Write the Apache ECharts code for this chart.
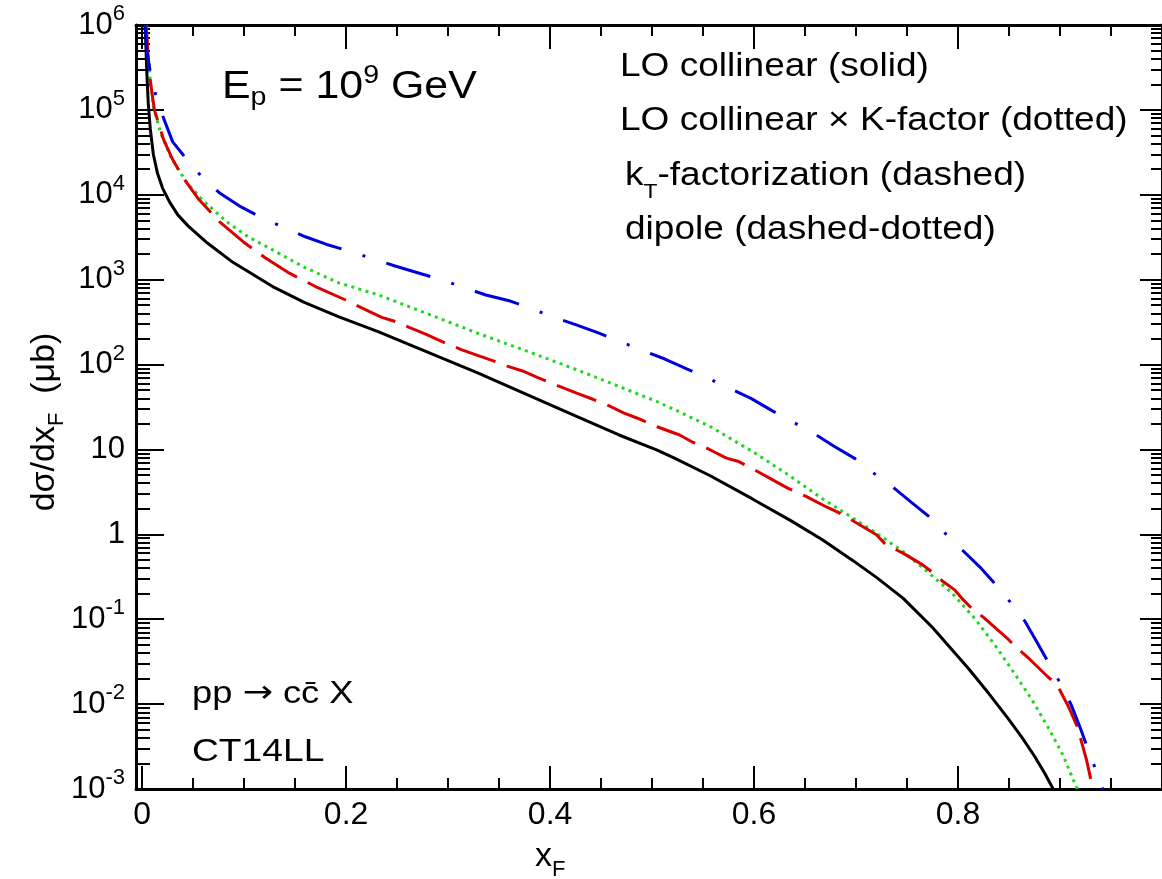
<!DOCTYPE html>
<html><head><meta charset="utf-8">
<script src="https://cdn.jsdelivr.net/npm/echarts@6/dist/echarts.min.js"></script>
<style>html,body{margin:0;padding:0;background:#fff}#c{width:1162px;height:879px}</style>
</head><body><div id="c"></div>
<script>
const FONT = "'Liberation Sans', Arial, Helvetica, sans-serif";

// LO collinear (solid, black)
const loX = [0.003,0.0045,0.006,0.008,0.011,0.015,0.020,0.027,0.035,0.045,0.064,0.089,0.128,0.159,0.193,0.232,0.268,0.329,0.378,0.426,0.467,0.505,0.522,0.557,0.598,0.636,0.667,0.696,0.720,0.746,0.775,0.810,0.830,0.849,0.863,0.875,0.885,0.892,0.897];
const loY = [1e6,3e5,1.2e5,6e4,3.0e4,1.8e4,1.2e4,8.2e3,5.8e3,4.3e3,2.7e3,1.6e3,830,540,365,243,160,80,44,24.5,14.9,9.8,7.9,4.9,2.63,1.45,0.863,0.50,0.311,0.177,0.080,0.0264,0.0134,0.0068,0.0040,0.00243,0.00153,0.00107,0.00083];

// LO collinear x K-factor (dotted, green)
const kfX = [0.004,0.006,0.008,0.011,0.018,0.028,0.044,0.060,0.083,0.104,0.128,0.159,0.193,0.232,0.268,0.329,0.378,0.426,0.467,0.505,0.522,0.557,0.602,0.636,0.667,0.696,0.716,0.732,0.746,0.768,0.794,0.817,0.837,0.856,0.873,0.888,0.903,0.915,0.920];
const kfY = [1e6,4e5,2.2e5,1.1e5,5.4e4,2.8e4,1.38e4,8.5e3,4.8e3,3.2e3,2.24e3,1.4e3,915,660,450,234,143,87,55.6,36.5,29.5,18.6,8.9,4.8,2.63,1.58,1.11,0.82,0.63,0.38,0.204,0.10,0.048,0.0224,0.011,0.0054,0.0025,0.00112,0.00085];

// kT-factorization (dashed, red)
const ktX = [0.004,0.006,0.008,0.012,0.021,0.030,0.040,0.055,0.076,0.099,0.121,0.144,0.170,0.199,0.223,0.235,0.249,0.263,0.278,0.298,0.313,0.326,0.343,0.358,0.373,0.388,0.408,0.426,0.442,0.457,0.472,0.487,0.505,0.527,0.539,0.552,0.562,0.573,0.585,0.601,0.621,0.633,0.651,0.671,0.683,0.701,0.720,0.729,0.746,0.765,0.772,0.785,0.797,0.805,0.813,0.825,0.848,0.856,0.870,0.888,0.897,0.908,0.917,0.920,0.926,0.931];
const ktY = [1e6,4e5,2.2e5,1.0e5,4.5e4,2.6e4,1.6e4,9.0e3,4.8e3,2.8e3,1.8e3,1.2e3,830,580,420,360,320,270,228,178,150,132,112,96,84,70,56,46,39,33,27,23,18.5,14.8,12.3,10.6,9.2,7.9,7.2,5.7,4.2,3.5,2.8,2.1,1.8,1.35,0.99,0.76,0.60,0.44,0.38,0.28,0.22,0.17,0.136,0.105,0.060,0.048,0.034,0.021,0.017,0.0095,0.0054,0.004,0.0022,0.00117];

// dipole (dashed-dotted, blue)
const dpX = [0.003,0.0046,0.008,0.0133,0.021,0.030,0.045,0.059,0.076,0.097,0.117,0.137,0.160,0.181,0.204,0.224,0.248,0.271,0.293,0.314,0.337,0.361,0.383,0.403,0.425,0.448,0.469,0.490,0.512,0.534,0.555,0.575,0.597,0.618,0.638,0.658,0.678,0.699,0.716,0.735,0.754,0.772,0.785,0.797,0.821,0.838,0.852,0.866,0.878,0.890,0.901,0.911,0.920,0.928,0.935,0.942,0.945];
const dpY = [1e6,5e5,2.8e5,1.5e5,8e4,4.2e4,2.5e4,1.6e4,1.05e4,7.2e3,5.4e3,4.2e3,3.2e3,2.6e3,2.15e3,1.8e3,1.45e3,1.2e3,1.0e3,822,660,560,450,363,295,234,186,148,117,89,69,53,40,28.5,21,15.7,11,7.8,5.4,3.7,2.4,1.6,1.1,0.79,0.417,0.248,0.155,0.093,0.052,0.029,0.017,0.0098,0.0052,0.0028,0.0017,0.001,0.0008];

const xMajorTicks = [0, 0.2, 0.4, 0.6, 0.8];
const xMinorTicks = [0.05,0.1,0.15,0.25,0.3,0.35,0.45,0.5,0.55,0.65,0.7,0.75,0.85,0.9,0.95];
const yMajorTicks = [1e-3,1e-2,1e-1,1,10,100,1e3,1e4,1e5,1e6];
const yMinorTicks = [];
for (let e = -3; e < 6; e++) for (let m = 2; m <= 9; m++) yMinorTicks.push(+(m * Math.pow(10, e)).toPrecision(3));

const zip = (xs, ys) => xs.map((x, i) => [x, ys[i]]);

const X_MIN = -0.006, X_MAX = 1.0, Y_MIN = 1e-3, Y_MAX = 1e6;

function xAxisDef(pos, ticks, len, showLine, showLabel) {
  return {
    type: 'value', min: X_MIN, max: X_MAX, position: pos,
    axisLine: { show: showLine, onZero: false, lineStyle: { color: '#000', width: 3 } },
    axisTick: { show: true, inside: true, length: len, customValues: ticks, lineStyle: { color: '#000', width: 2 } },
    axisLabel: showLabel ? {
      show: true, customValues: ticks, margin: 10, color: '#000', fontSize: 32, fontFamily: FONT,
      formatter: v => v === 0 ? '0' : v.toFixed(1)
    } : { show: false },
    splitLine: { show: false }
  };
}
function yAxisDef(pos, ticks, len, showLine, showLabel) {
  return {
    type: 'log', logBase: 10, min: Y_MIN, max: Y_MAX, position: pos,
    axisLine: { show: showLine, onZero: false, lineStyle: { color: '#000', width: 3 } },
    axisTick: { show: true, inside: true, length: len, customValues: ticks, lineStyle: { color: '#000', width: 2 } },
    axisLabel: showLabel ? {
      show: true, customValues: ticks, margin: 11, color: '#000', fontFamily: FONT,
      formatter: v => {
        const e = Math.round(Math.log10(v));
        if (e === 0) return '{b|1}';
        if (e === 1) return '{b|10}';
        return '{b|10}{s|' + e + '}';
      },
      rich: {
        b: { fontSize: 31, lineHeight: 44, fontFamily: FONT, color: '#000' },
        s: { fontSize: 22, lineHeight: 22, verticalAlign: 'top', fontFamily: FONT, color: '#000' }
      }
    } : { show: false },
    splitLine: { show: false }
  };
}

function txt(x, y, text, rich, scaleX) {
  return {
    type: 'text', x: x, y: y, scaleX: scaleX || 1,
    style: { text: text, rich: rich, align: 'left', verticalAlign: 'middle', fill: '#000', fontFamily: FONT }
  };
}
const legRich = {
  a: { fontSize: 32.5, lineHeight: 52, fontFamily: FONT, fill: '#000', color: '#000' },
  s: { fontSize: 20, lineHeight: 20, verticalAlign: 'bottom', fontFamily: FONT, fill: '#000', color: '#000' }
};
const annRich = {
  a: { fontSize: 31, lineHeight: 40, fontFamily: FONT, fill: '#000', color: '#000' },
  r: { fontSize: 31, lineHeight: 40, fontFamily: "'DejaVu Sans', sans-serif", fill: '#000', color: '#000' }
};

const chart = echarts.init(document.getElementById('c'), null, { renderer: 'canvas' });
chart.setOption({
  animation: false,
  backgroundColor: '#fff',
  grid: { left: 136, top: 25, width: 1032, height: 764, containLabel: false },
  xAxis: [
    xAxisDef('bottom', xMajorTicks, 23, true, true),
    xAxisDef('bottom', xMinorTicks, 11, false, false),
    xAxisDef('top', xMajorTicks, 24, true, false),
    xAxisDef('top', xMinorTicks, 11, false, false)
  ],
  yAxis: [
    yAxisDef('left', yMajorTicks, 28, true, true),
    yAxisDef('left', yMinorTicks, 14, false, false),
    yAxisDef('right', yMajorTicks, 22, true, false),
    yAxisDef('right', yMinorTicks, 11, false, false)
  ],
  series: [
    { type: 'line', name: 'LO collinear', data: zip(loX, loY), showSymbol: false, clip: true,
      lineStyle: { color: '#000000', width: 3 }, z: 4 },
    { type: 'line', name: 'LO collinear x K-factor', data: zip(kfX, kfY), showSymbol: false, clip: true,
      lineStyle: { color: '#1fd81f', width: 3, type: [3, 4.4], cap: 'butt' }, z: 3 },
    { type: 'line', name: 'kT-factorization', data: zip(ktX, ktY), showSymbol: false, clip: true,
      lineStyle: { color: '#dd0000', width: 3, type: [42, 12] }, z: 5 },
    { type: 'line', name: 'dipole', data: zip(dpX, dpY), showSymbol: false, clip: true,
      lineStyle: { color: '#0000dd', width: 3, type: [46, 22, 3, 22] }, z: 6 }
  ],
  graphic: [
    txt(222, 87, '{m|E}{sb|p}{m| = 10}{sp|9}{m| GeV}', {
      m: { fontSize: 39, lineHeight: 48, fontFamily: FONT, fill: '#000', color: '#000' },
      sb: { fontSize: 26, lineHeight: 26, verticalAlign: 'bottom', fontFamily: FONT, fill: '#000', color: '#000' },
      sp: { fontSize: 26, lineHeight: 26, verticalAlign: 'top', fontFamily: FONT, fill: '#000', color: '#000' }
    }, 1.1),
    txt(620, 67, '{a|LO collinear (solid)}', legRich, 1.14),
    txt(620, 121, '{a|LO collinear \u00d7 K-factor (dotted)}', legRich, 1.14),
    txt(625, 176, '{a|k}{s|T}{a|-factorization (dashed)}', legRich, 1.14),
    txt(625, 230, '{a|dipole (dashed-dotted)}', legRich, 1.14),
    txt(192, 694, '{a|pp }{r|\u2192}{a| cc\u0304 X}', annRich, 1.17),
    txt(192, 752, '{a|CT14LL}', annRich, 1.2),
    txt(535, 857, '{a|x}{s|F}', {
      a: { fontSize: 34, lineHeight: 48, fontFamily: FONT, fill: '#000', color: '#000' },
      s: { fontSize: 22, lineHeight: 22, verticalAlign: 'bottom', fontFamily: FONT, fill: '#000', color: '#000' }
    }, 1),
    {
      type: 'text', x: 45, y: 422, rotation: Math.PI / 2,
      style: {
        text: '{a|d\u03c3/dx}{s|F}{a|  (\u03bcb)}',
        rich: {
          a: { fontSize: 34, lineHeight: 46, fontFamily: FONT, fill: '#000', color: '#000' },
          s: { fontSize: 22, lineHeight: 22, verticalAlign: 'bottom', fontFamily: FONT, fill: '#000', color: '#000' }
        },
        align: 'center', verticalAlign: 'middle', fill: '#000', fontFamily: FONT
      }
    }
  ]
});
</script>
</body></html>
